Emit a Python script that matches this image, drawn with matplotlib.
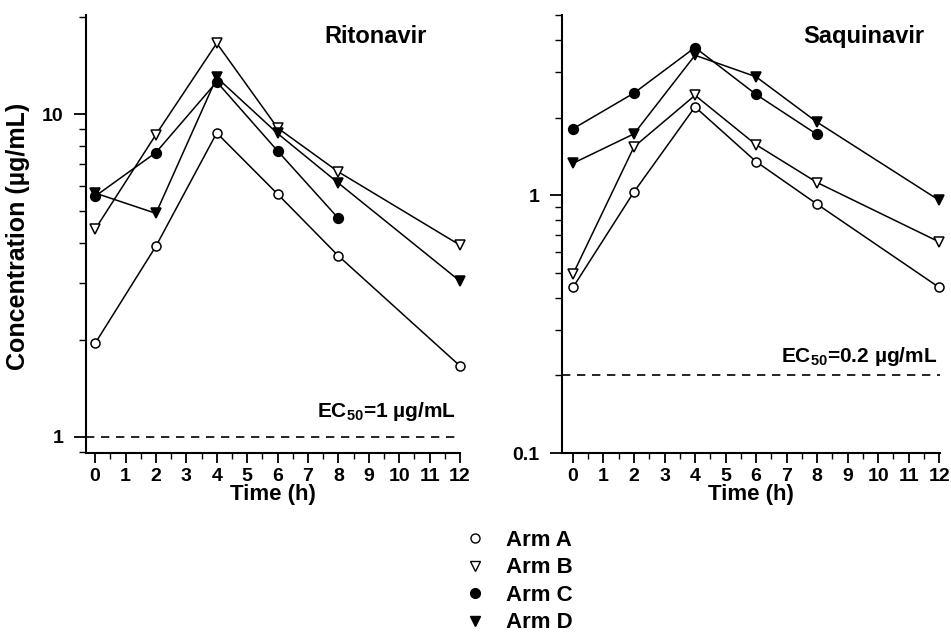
import numpy as np
import matplotlib
matplotlib.use("Agg")
import matplotlib.pyplot as plt
from matplotlib.lines import Line2D
from matplotlib.ticker import LogLocator, FixedLocator, NullFormatter, MultipleLocator, FixedFormatter

plt.rcParams['font.family'] = ['Liberation Sans', 'DejaVu Sans']
plt.rcParams['font.weight'] = 'bold'
plt.rcParams['mathtext.fontset'] = 'custom'
plt.rcParams['mathtext.rm'] = 'Liberation Sans:bold'
plt.rcParams['mathtext.bf'] = 'Liberation Sans:bold'

# ---- data ----
times = [0, 2, 4, 6, 8, 12]
arms = ["Arm A", "Arm B", "Arm C", "Arm D"]

rito_A = [1.95, 3.90, 8.75, 5.66, 3.64, 1.66]
rito_B = [4.40, 8.65, 16.6, 9.07, 6.63, 3.93]
rito_C = [5.57, 7.61, 12.6, 7.70, 4.76, np.nan]
rito_D = [5.70, 4.93, 13.0, 8.72, 6.12, 3.04]

saq_A = [0.439, 1.03, 2.20, 1.35, 0.923, 0.439]
saq_B = [0.494, 1.54, 2.44, 1.57, 1.12, 0.659]
saq_C = [1.81, 2.49, 3.74, 2.46, 1.72, np.nan]
saq_D = [1.33, 1.73, 3.49, 2.88, 1.92, 0.956]

rito_ec50 = 1.0
saq_ec50 = 0.2

x_ticks = list(range(0, 13))
rito_yticks = [1, 10]
rito_yticklabels = ["1", "10"]
saq_yticks = [0.1, 1]
saq_yticklabels = ["0.1", "1"]

styles = {
    "Arm A": dict(marker='o', mfc='white', mec='black', ms=6.5),
    "Arm B": dict(marker='v', mfc='white', mec='black', ms=7.5),
    "Arm C": dict(marker='o', mfc='black', mec='black', ms=7),
    "Arm D": dict(marker='v', mfc='black', mec='black', ms=7),
}

W, H = 951, 636
fig = plt.figure(figsize=(W / 100, H / 100), dpi=100)

def px_axes(l, r, t, b):
    return fig.add_axes([l / W, 1 - b / H, (r - l) / W, (b - t) / H])

ax1 = px_axes(86, 460, 15, 453)
ax2 = px_axes(562, 940, 15, 453)

def style_axis(ax, yt, ytl, ylim, xlim):
    ax.set_yscale('log')
    ax.set_ylim(*ylim)
    ax.set_xlim(*xlim)
    for s in ['top', 'right']:
        ax.spines[s].set_visible(False)
    for s in ['left', 'bottom']:
        ax.spines[s].set_linewidth(1.5)
    ax.yaxis.set_major_locator(FixedLocator(yt))
    ax.yaxis.set_major_formatter(FixedFormatter(ytl))
    ax.yaxis.set_minor_locator(LogLocator(base=10, subs=np.arange(2, 10)))
    ax.yaxis.set_minor_formatter(NullFormatter())
    ax.xaxis.set_major_locator(FixedLocator(x_ticks))
    ax.xaxis.set_minor_locator(MultipleLocator(0.5))
    ax.tick_params(axis='both', which='major', direction='out', width=1.3,
                   labelsize=14)
    ax.tick_params(axis='y', which='major', length=9, pad=7)
    ax.tick_params(axis='y', which='minor', length=5, width=1.0, direction='out')
    ax.tick_params(axis='x', which='major', length=7, pad=4)
    ax.tick_params(axis='x', which='minor', length=4, width=1.0, direction='out')
    for lab in ax.get_xticklabels() + ax.get_yticklabels():
        lab.set_fontweight('bold')

style_axis(ax1, rito_yticks, rito_yticklabels, (0.892, 20.3), (-0.3, 12.0))
style_axis(ax2, saq_yticks, saq_yticklabels, (0.1, 5.0), (-0.36, 12.03))

for ax, series in [(ax1, [rito_A, rito_B, rito_C, rito_D]),
                   (ax2, [saq_A, saq_B, saq_C, saq_D])]:
    for arm, vals in zip(arms, series):
        ax.plot(times, vals, color='black', lw=1.1, mew=1.1, clip_on=False,
                **styles[arm])

ax1.axhline(rito_ec50, color='black', lw=1.2, ls=(0, (5, 4)))
ax2.axhline(saq_ec50, color='black', lw=1.2, ls=(0, (5, 4)))

ax1.text(0.775, 0.95, "Ritonavir", transform=ax1.transAxes, ha='center',
         va='center', fontsize=17, fontweight='bold')
ax2.text(0.799, 0.95, "Saquinavir", transform=ax2.transAxes, ha='center',
         va='center', fontsize=17, fontweight='bold')

ax1.text(11.85, 0.082, r"EC$_{50}$=1 µg/mL", transform=ax1.get_xaxis_transform(),
         ha='right', va='baseline', fontsize=15, fontweight='bold')
ax2.text(11.93, 0.208, r"EC$_{50}$=0.2 µg/mL", transform=ax2.get_xaxis_transform(),
         ha='right', va='baseline', fontsize=15, fontweight='bold')

for ax in (ax1, ax2):
    ax.set_xlabel("Time (h)", fontsize=16, fontweight='bold', labelpad=-1)

fig.text(18 / W, 1 - 236 / H, "Concentration (µg/mL)", rotation=90,
         ha='center', va='center', fontsize=18, fontweight='bold')

handles = [Line2D([], [], ls='none', color='black', **styles[a]) for a in arms]
fig.legend(handles, arms, loc='upper left', bbox_to_anchor=(464 / W, 1 - 530 / H),
           frameon=False, fontsize=16, handlelength=1.0, handletextpad=0.9,
           labelspacing=0.29, borderpad=0, borderaxespad=0)

fig.savefig("out.png", dpi=100)
